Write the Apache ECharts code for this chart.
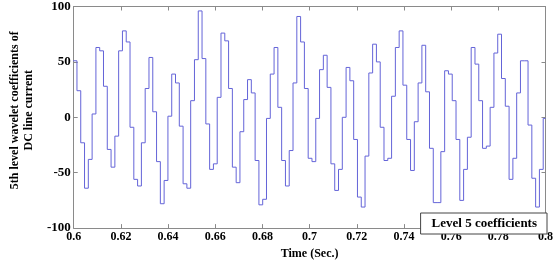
<!DOCTYPE html>
<html>
<head>
<meta charset="utf-8">
<script src="https://cdn.jsdelivr.net/npm/echarts@6/dist/echarts.min.js"></script>
<style>
  html, body { margin: 0; padding: 0; background: #fff; }
  #chart { width: 556px; height: 265px; }
</style>
</head>
<body>
<div id="chart"></div>
<script>
// level 5 coefficients, one value per held step
const coeffs = [
  51, 24, -23, -64, -38, 3, 63, 60, 28, -29, -45, -17, 60, 78, 68, -9,
  -56, -62, -23, 26, 54, 5, -40, -78, -57, 1, 39, 31, -8, -60, -64, 15,
  52, 96, 53, -6, -47, -42, 18, 76, 69, 26, -45, -59, -13, 16, 34, 22,
  -39, -79, -74, -1, 39, 63, 9, -39, -62, -30, 31, 91, 68, 26, -37,
  -40, -1, 43, 56, 27, -42, -66, -47, 0, 45, 33, -20, -72, -81, -35, 40,
  66, 50, -9, -39, -37, 19, 63, 78, 29, -20, -48, -4, 31, 65, 23,
  -28, -77, -77, -31, 42, 39, 15, -20, -75, -47, -18, 63, 48, 15, -28, -26,
  9, 58, 75, 35, 10, -56, -37, 22, 51, 51, -7, -55, -81, -47, -1
];
// sample grid of the coefficients (seconds)
const startTime = 0.59976;
const sampleStep = 0.001607;
const endTime = 0.8;
const xTicks = [0.6, 0.62, 0.64, 0.66, 0.68, 0.7, 0.72, 0.74, 0.76, 0.78, 0.8];
const yTicks = [-100, -50, 0, 50, 100];

const points = coeffs.map((v, i) => [startTime + i * sampleStep, v]);
points.push([endTime, coeffs[coeffs.length - 1]]);

const font = 'Liberation Serif';
const axisCol = '#8a8a8a';

const chart = echarts.init(document.getElementById('chart'));
const xBase = {
  type: 'value',
  min: xTicks[0],
  max: xTicks[xTicks.length - 1],
  interval: 0.02,
  axisLine: { onZero: false, lineStyle: { color: axisCol } },
  axisTick: { inside: true, length: 4, lineStyle: { color: axisCol } },
  splitLine: { show: false }
};
const yBase = {
  type: 'value',
  min: yTicks[0],
  max: yTicks[yTicks.length - 1],
  interval: 50,
  axisLine: { show: true, onZero: false, lineStyle: { color: axisCol } },
  axisTick: { show: true, inside: true, length: 4, lineStyle: { color: axisCol } },
  splitLine: { show: false }
};

chart.setOption({
  animation: false,
  grid: { left: 55, right: 9, top: 6, bottom: 31 },
  legend: {
    data: ['Level 5 coefficients'],
    right: 9,
    bottom: 31,
    icon: 'none',
    itemWidth: 0,
    itemHeight: 0,
    padding: [4, 10, 4, 6],
    backgroundColor: '#fff',
    borderColor: '#444',
    borderWidth: 1,
    borderRadius: 0,
    textStyle: { fontFamily: font, fontWeight: 'bold', fontSize: 13, color: '#000' }
  },
  xAxis: [
    Object.assign({}, xBase, {
      position: 'bottom',
      name: 'Time (Sec.)',
      nameLocation: 'middle',
      nameGap: 19,
      nameTextStyle: { fontFamily: font, fontWeight: 'bold', fontSize: 12, color: '#000' },
      axisLabel: {
        margin: 3,
        fontFamily: font, fontWeight: 'bold', fontSize: 12, color: '#000',
        formatter: v => String(+v.toFixed(2))
      }
    }),
    Object.assign({}, xBase, { position: 'top', axisLabel: { show: false } })
  ],
  yAxis: [
    Object.assign({}, yBase, {
      position: 'left',
      name: '5th level wavelet coefficients of\nDC line current',
      nameLocation: 'middle',
      nameGap: 25,
      nameTextStyle: { fontFamily: font, fontWeight: 'bold', fontSize: 12, lineHeight: 14, color: '#000', padding: [0, 0, 0, 14] },
      axisLabel: { margin: 3, fontFamily: font, fontWeight: 'bold', fontSize: 13, color: '#000' }
    }),
    Object.assign({}, yBase, { position: 'right', axisLabel: { show: false } })
  ],
  series: [{
    name: 'Level 5 coefficients',
    type: 'line',
    step: 'end',
    showSymbol: false,
    symbol: 'none',
    data: points,
    lineStyle: { color: '#6464d8', width: 1 },
    itemStyle: { color: '#6464d8' }
  }]
});
</script>
</body>
</html>
